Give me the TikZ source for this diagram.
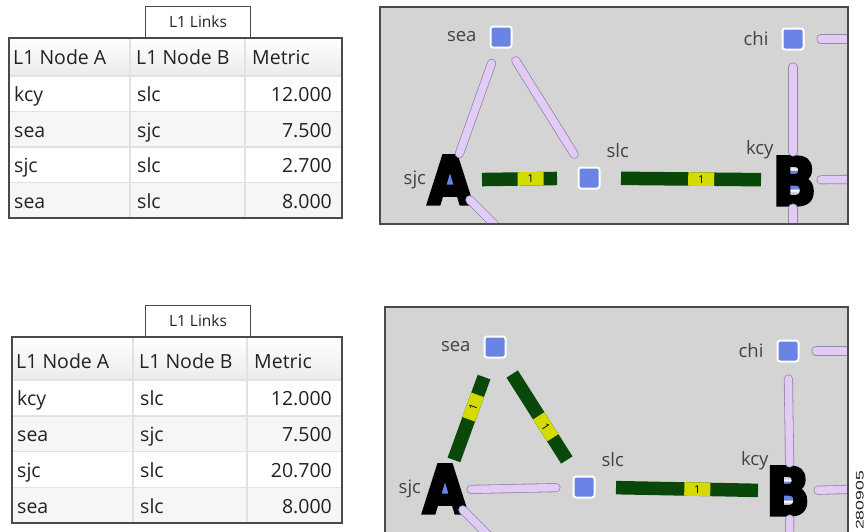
\documentclass[tikz,border=0pt]{standalone}
\usepackage{fontspec}
\setmainfont{Open Sans}
\newfontfamily\bigfont{DejaVu Sans}[FakeStretch=0.86,FakeBold=5]
\newfontfamily\idfont{Liberation Sans}[FakeStretch=1.6]
\usetikzlibrary{positioning}
\definecolor{mycpanel}{HTML}{D4D4D4}
\definecolor{mycframe}{HTML}{4A4A4A}
\definecolor{mycnode}{HTML}{6A84E6}
\definecolor{mycpink}{HTML}{E2CBF6}
\definecolor{mycpinkline}{HTML}{958BA3}
\definecolor{mycgreen}{HTML}{0A480A}
\definecolor{mycyellow}{HTML}{D3DB00}
\definecolor{mycgrid}{HTML}{E2E2E2}
\definecolor{mychead}{HTML}{EBEBEB}
\definecolor{mycrow}{HTML}{F6F6F6}
\definecolor{myctext}{HTML}{222222}

\begin{document}
\begin{tikzpicture}[x=1pt,y=-1pt,
 nd/.style={draw=white,line width=2pt,fill=mycnode,minimum size=21pt,inner sep=0pt,outer sep=0pt,rounded corners=2.5pt},
 big/.style={font=\bigfont\bfseries\fontsize{66}{66}\selectfont,inner sep=0pt,outer sep=0pt},
 lbl/.style={font=\fontsize{18.5}{19}\selectfont,text=myctext!85,inner sep=0pt,outer sep=0pt},
 plink/.style={draw=mycpinkline,line width=0.8pt,double=mycpink,double distance=7.5pt,line cap=round,shorten <=28pt,shorten >=28pt},
 glink/.style={draw=mycgreen,line width=13.5pt,shorten <=32pt,shorten >=32pt},
 num/.style={fill=mycyellow,sloped,minimum width=26pt,minimum height=13.5pt,inner sep=0pt,font=\fontsize{11}{11}\selectfont},
 panel/.style={draw=mycframe,line width=1.5pt},
 cell/.style={font=\fontsize{19.5}{20}\selectfont,text=myctext,inner sep=0pt},
 tabbox/.style={draw=mycframe,line width=1pt,fill=white,font=\fontsize{15.5}{16}\selectfont,text=myctext,inner sep=0pt}
]
\useasboundingbox (0,0) rectangle (866,531);
\clip (0,0) rectangle (866,531);

\foreach \tn/\tl/\tt/\hb/\rh/\ca/\cb/\mv in {ta/9/38/76/35.5/130/245/2.700,tb/12/337/380/35.75/133/247/20.700}{
 \node[tabbox,anchor=south west,minimum width=105pt,minimum height=31pt] (\tn tab) at (145,\tt) {L1 Links};
 \fill[top color=white,bottom color=mychead] (\tl,\tt) rectangle (342,\hb);
 \node[cell,anchor=base west] (\tn h1) at (\tl+4,\hb-12) {L1 Node A};
 \node[cell,anchor=base west] (\tn h2) at (\ca+6,\hb-12) {L1 Node B};
 \node[cell,anchor=base west] (\tn h3) at (\cb+7,\hb-12) {Metric};
 \foreach \na/\nb/\mt [count=\i] in {kcy/slc/12.000,sea/sjc/7.500,sjc/slc/\mv,sea/slc/8.000}{
  \pgfmathtruncatemacro\rc{100*(1-mod(\i,2))}
  \fill[mycrow!\rc!white] (\tl,{\hb+(\i-1)*\rh}) rectangle (342,{\hb+\i*\rh});
  \draw[mycgrid,line width=1.5pt] (\tl,{\hb+(\i-1)*\rh}) -- (342,{\hb+(\i-1)*\rh});
  \node[cell,anchor=base west] (\tn r\i a) at (\tl+5,{\hb+(\i-.5)*\rh+8}) {\na};
  \node[cell,anchor=base west] (\tn r\i b) at (\ca+7,{\hb+(\i-.5)*\rh+8}) {\nb};
  \node[cell,anchor=base east] (\tn r\i m) at (332,{\hb+(\i-.5)*\rh+8}) {\mt};
 }
 \draw[mycgrid,line width=1.5pt] (\ca,\tt) -- (\ca,{\hb+4*\rh}) (\cb,\tt) -- (\cb,{\hb+4*\rh});
 \draw[mycframe,line width=1.5pt] (\tl,\tt) rectangle (342,{\hb+4*\rh});
}

\fill[mycpanel] (380,7) rectangle (848,224);
\begin{scope}
\clip (380,7) rectangle (848,224);
\node[nd] (sea1) at (501,37) {};
\node[nd] (chi1) at (793,39) {};
\node[nd] (slc1) at (589,178) {};
\node[nd] (sjc1) at (450,180) {};
\node[nd] (kcy1) at (793,180) {};
\node[big,anchor=base] (lA1) at (450,204) {A};
\node[big,anchor=base] (lB1) at (794.5,205) {B};
\coordinate (chiE1) at (900,39);
\coordinate (kcyE1) at (900,179);
\coordinate (kcyS1) at (793,280);
\coordinate (sjcS1) at (540,270);
\draw[plink] (sea1.center) -- (sjc1.center);
\draw[plink] (sea1.center) -- (slc1.center);
\draw[plink] (chi1.center) -- (kcy1.center);
\draw[plink] (chi1.center) -- (chiE1);
\draw[plink] (kcy1.center) -- (kcyE1);
\draw[plink] (kcy1.center) -- (kcyS1);
\draw[plink] (sjc1.center) -- (sjcS1);
\draw[glink] (sjc1.center) -- node[num,pos=.58] {1} (slc1.center);
\draw[glink] (slc1.center) -- node[num,pos=.55] {1} (kcy1.center);
\end{scope}
\draw[panel] (380,7) rectangle (848,224);
\node[lbl,left=14pt of sea1] (tsea1) {sea};
\node[lbl,left=14pt of chi1] (tchi1) {chi};
\node[lbl,above right=10pt and 7pt of slc1] (tslc1) {slc};
\node[lbl,above left=11pt and 9pt of kcy1] (tkcy1) {kcy};
\node[lbl,left=2pt of lA1] (tsjc1) {sjc};

\fill[mycpanel] (385,307) rectangle (848,540);
\begin{scope}
\clip (385,307) rectangle (848,540);
\node[nd] (sea2) at (495,347) {};
\node[nd] (chi2) at (788,351) {};
\node[nd] (slc2) at (584,487) {};
\node[nd] (sjc2) at (443,490) {};
\node[nd] (kcy2) at (790,491) {};
\node[big,anchor=base] (lA2) at (445,513) {A};
\node[big,anchor=base] (lB2) at (788,515) {B};
\coordinate (chiE2) at (900,351);
\coordinate (kcyE2) at (900,488);
\coordinate (kcyS2) at (789,600);
\coordinate (sjcS2) at (543,590);
\draw[plink] (sjc2.center) -- (slc2.center);
\draw[plink] (chi2.center) -- (kcy2.center);
\draw[plink] (chi2.center) -- (chiE2);
\draw[plink] (kcy2.center) -- (kcyE2);
\draw[plink] (kcy2.center) -- (kcyS2);
\draw[plink] (sjc2.center) -- (sjcS2);
\draw[glink] (sea2.center) -- node[num,pos=.42] {1} (sjc2.center);
\draw[glink] (sea2.center) -- node[num,pos=.57] {1} (slc2.center);
\draw[glink] (slc2.center) -- node[num,pos=.55] {1} (kcy2.center);
\end{scope}
\draw[panel] (385,307) rectangle (848,540);
\node[lbl,left=14pt of sea2] (tsea2) {sea};
\node[lbl,left=14pt of chi2] (tchi2) {chi};
\node[lbl,above right=10pt and 7pt of slc2] (tslc2) {slc};
\node[lbl,above left=11pt and 11pt of kcy2] (tkcy2) {kcy};
\node[lbl,left=2pt of lA2] (tsjc2) {sjc};

\node[rotate=90,anchor=south west,inner sep=0pt,font=\idfont\fontsize{11}{11}\selectfont,text=myctext] (figid) at (864,530) {280905};
\end{tikzpicture}
\end{document}
